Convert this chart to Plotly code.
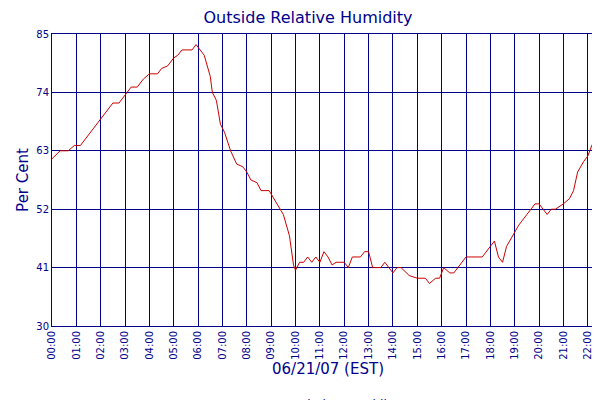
import plotly.graph_objects as go

times = ["00:00","00:20","00:40","00:55","01:10","01:30","02:00","02:30","02:45","03:00","03:15","03:30","03:45","04:00","04:20","04:30","04:45","05:00","05:10","05:20","05:45","05:55","06:05","06:15","06:30","06:35","06:45","06:55","07:05","07:20","07:35","07:50","08:00","08:10","08:25","08:35","08:55","09:10","09:30","09:45","09:55","10:00","10:10","10:20","10:30","10:40","10:50","11:00","11:10","11:20","11:30","11:40","12:00","12:10","12:20","12:40","12:50","13:00","13:10","13:30","13:40","13:50","14:00","14:10","14:20","14:40","15:00","15:20","15:30","15:45","15:55","16:05","16:20","16:30","16:50","17:00","17:40","18:00","18:10","18:20","18:30","18:40","18:55","19:10","19:30","19:50","20:00","20:20","20:30","20:40","21:00","21:15","21:25","21:35","21:50","22:00","22:10","22:20","22:30","22:40"]
humidity = [61.5,63,63,64,64,66,69,72,72,73.5,75,75,76.5,77.5,77.5,78.5,79,80.5,81,82,82,83,82,81,77,74,72.5,68,66.5,63,60.5,60,59,57.5,57,55.5,55.5,53.5,51,47,41.5,40.5,42,42,43,42,43,42,44,43,41.5,42,42,41,43,43,44,44,41,41,42,41,40,41,41,39.5,39,39,38,39,39,41,40,40,42,43,43,45,46,43,42,45,47,49,51,53,53,51,52,52,53,54,55.5,59,61,62,64,65.5,66,66]
tick_labels = ["00:00","01:00","02:00","03:00","04:00","05:00","06:00","07:00","08:00","09:00","10:00","11:00","12:00","13:00","14:00","15:00","16:00","17:00","18:00","19:00","20:00","21:00","22:00","22:40"]
y_ticks = [30, 41, 52, 63, 74, 85]

def to_h(t):
    h, m = t.split(":")
    return int(h) + int(m) / 60

x = [to_h(t) for t in times]
tickvals = [to_h(t) for t in tick_labels]

navy = "#00008B"
fig = go.Figure(go.Scatter(x=x, y=humidity, mode="lines", name="Relative Humidity",
                           line=dict(color="#CC0000", width=1)))
fig.update_layout(
    width=600, height=400, paper_bgcolor="white", plot_bgcolor="white",
    margin=dict(l=44, r=4, t=26, b=82, autoexpand=False),
    font=dict(family="DejaVu Sans", color=navy, size=10),
    title=dict(text="Outside Relative Humidity", x=0.5, y=0.99, yanchor="top", font=dict(size=16, color=navy)),
    showlegend=True,
    legend=dict(orientation="h", x=0.5, xanchor="center", y=-0.22, yanchor="top", font=dict(size=12)),
)
fig.update_xaxes(range=[0, to_h("22:40")], tickvals=tickvals, ticktext=tick_labels, tickangle=-90,
                 showgrid=True, gridcolor=navy, gridwidth=1, showline=True, linecolor=navy, mirror=True,
                 zeroline=False, automargin=False,
                 title=dict(text="06/21/07 (EST)", font=dict(size=15), standoff=4),
                 tickfont=dict(size=10))
fig.update_yaxes(range=[30, 85], tickvals=y_ticks, showgrid=True, gridcolor=navy, gridwidth=1,
                 showline=True, linecolor=navy, mirror=True, zeroline=False, automargin=False,
                 title=dict(text="Per Cent", font=dict(size=15), standoff=4), tickfont=dict(size=10))
fig.write_html("out.html")
